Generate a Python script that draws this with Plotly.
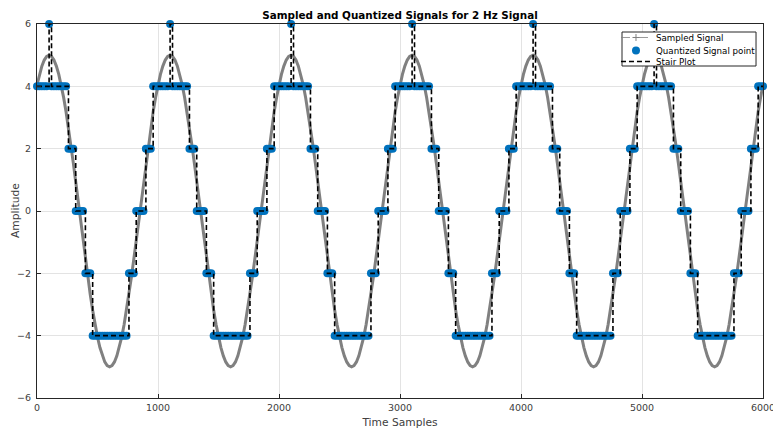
import numpy as np
import plotly.graph_objects as go

SAMPLE_X = list(range(0, 6001, 20))
SIGNAL = [
    4.045, 4.382, 4.649, 4.843, 4.961, 5.0, 4.961, 4.843, 4.649, 4.382,
    4.045, 3.645, 3.187, 2.679, 2.129, 1.545, 0.937, 0.314, -0.314, -0.937,
    -1.545, -2.129, -2.679, -3.187, -3.645, -4.045, -4.382, -4.649, -4.843, -4.961,
    -5.0, -4.961, -4.843, -4.649, -4.382, -4.045, -3.645, -3.187, -2.679, -2.129,
    -1.545, -0.937, -0.314, 0.314, 0.937, 1.545, 2.129, 2.679, 3.187, 3.645,
    4.045, 4.382, 4.649, 4.843, 4.961, 5.0, 4.961, 4.843, 4.649, 4.382,
    4.045, 3.645, 3.187, 2.679, 2.129, 1.545, 0.937, 0.314, -0.314, -0.937,
    -1.545, -2.129, -2.679, -3.187, -3.645, -4.045, -4.382, -4.649, -4.843, -4.961,
    -5.0, -4.961, -4.843, -4.649, -4.382, -4.045, -3.645, -3.187, -2.679, -2.129,
    -1.545, -0.937, -0.314, 0.314, 0.937, 1.545, 2.129, 2.679, 3.187, 3.645,
    4.045, 4.382, 4.649, 4.843, 4.961, 5.0, 4.961, 4.843, 4.649, 4.382,
    4.045, 3.645, 3.187, 2.679, 2.129, 1.545, 0.937, 0.314, -0.314, -0.937,
    -1.545, -2.129, -2.679, -3.187, -3.645, -4.045, -4.382, -4.649, -4.843, -4.961,
    -5.0, -4.961, -4.843, -4.649, -4.382, -4.045, -3.645, -3.187, -2.679, -2.129,
    -1.545, -0.937, -0.314, 0.314, 0.937, 1.545, 2.129, 2.679, 3.187, 3.645,
    4.045, 4.382, 4.649, 4.843, 4.961, 5.0, 4.961, 4.843, 4.649, 4.382,
    4.045, 3.645, 3.187, 2.679, 2.129, 1.545, 0.937, 0.314, -0.314, -0.937,
    -1.545, -2.129, -2.679, -3.187, -3.645, -4.045, -4.382, -4.649, -4.843, -4.961,
    -5.0, -4.961, -4.843, -4.649, -4.382, -4.045, -3.645, -3.187, -2.679, -2.129,
    -1.545, -0.937, -0.314, 0.314, 0.937, 1.545, 2.129, 2.679, 3.187, 3.645,
    4.045, 4.382, 4.649, 4.843, 4.961, 5.0, 4.961, 4.843, 4.649, 4.382,
    4.045, 3.645, 3.187, 2.679, 2.129, 1.545, 0.937, 0.314, -0.314, -0.937,
    -1.545, -2.129, -2.679, -3.187, -3.645, -4.045, -4.382, -4.649, -4.843, -4.961,
    -5.0, -4.961, -4.843, -4.649, -4.382, -4.045, -3.645, -3.187, -2.679, -2.129,
    -1.545, -0.937, -0.314, 0.314, 0.937, 1.545, 2.129, 2.679, 3.187, 3.645,
    4.045, 4.382, 4.649, 4.843, 4.961, 5.0, 4.961, 4.843, 4.649, 4.382,
    4.045, 3.645, 3.187, 2.679, 2.129, 1.545, 0.937, 0.314, -0.314, -0.937,
    -1.545, -2.129, -2.679, -3.187, -3.645, -4.045, -4.382, -4.649, -4.843, -4.961,
    -5.0, -4.961, -4.843, -4.649, -4.382, -4.045, -3.645, -3.187, -2.679, -2.129,
    -1.545, -0.937, -0.314, 0.314, 0.937, 1.545, 2.129, 2.679, 3.187, 3.645,
    4.045,
]
QUANT_STEP = 2
X_TICKS = [0, 1000, 2000, 3000, 4000, 5000, 6000]
Y_TICKS = [-6, -4, -2, 0, 2, 4, 6]
TITLE = "Sampled and Quantized Signals for 2 Hz Signal"
X_LABEL = "Time Samples"
Y_LABEL = "Amplitude"

sig = np.array(SIGNAL)
quant = np.floor(sig / QUANT_STEP + 0.5) * QUANT_STEP

GRAY = "#808080"
BLUE = "#0072BD"
AX = "#262626"
FONT = "DejaVu Sans"

fig = go.Figure()
# legend-only entry for the sampled signal (thin dash-dot with marker)
fig.add_trace(go.Scatter(x=[None], y=[None], mode="lines+markers", name="Sampled Signal",
                         legend="legend",
                         line=dict(color=GRAY, width=0.8, dash="dashdot"),
                         marker=dict(symbol="cross-thin", size=5, line=dict(color=GRAY, width=1))))
fig.add_trace(go.Scatter(x=SAMPLE_X, y=sig, mode="lines", showlegend=False,
                         line=dict(color=GRAY, width=3)))
fig.add_trace(go.Scatter(x=SAMPLE_X, y=quant, mode="markers", name="Quantized Signal point",
                         legend="legend2",
                         marker=dict(color=BLUE, size=8), cliponaxis=False))
fig.add_trace(go.Scatter(x=SAMPLE_X, y=quant, mode="lines", name="Stair Plot", line_shape="hv",
                         legend="legend3",
                         line=dict(color="black", width=1.6, dash="5px,3px"), cliponaxis=False))

axis_common = dict(showline=True, linecolor=AX, linewidth=1, mirror=True,
                   showgrid=True, gridcolor="#e3e3e3", gridwidth=1, zeroline=False,
                   ticks="inside", ticklen=4, tickcolor=AX, automargin=False,
                   ticklabeloverflow="allow",
                   tickfont=dict(family=FONT, size=9.5, color="#404040"))

fig.update_xaxes(range=[0, 6000], tickvals=X_TICKS, **axis_common, ticklabelstandoff=1,
                 title=dict(text=X_LABEL, font=dict(family=FONT, size=10.7, color="#404040"), standoff=6))
fig.update_yaxes(range=[-6, 6], tickvals=Y_TICKS, **axis_common, ticklabelstandoff=3)

leg_common = dict(xanchor="left", yanchor="top", bgcolor="rgba(0,0,0,0)", borderwidth=0,
                  font=dict(family=FONT, size=8.7, color="black"), itemwidth=30)

fig.update_layout(
    width=773, height=433,
    margin=dict(l=37, r=10, t=24, b=35),
    plot_bgcolor="white", paper_bgcolor="white",
    title=dict(text="<b>" + TITLE + "</b>", x=0.5, xref="paper", xanchor="center",
               y=1 - 15 / 433, yanchor="middle", font=dict(family=FONT, size=10.4, color="black")),
    legend=dict(x=0.7975, y=1.0027, **leg_common),
    legend2=dict(x=0.7975, y=0.968, **leg_common),
    legend3=dict(x=0.7975, y=0.9387, **leg_common),
    shapes=[dict(type="rect", xref="paper", yref="paper", x0=0.8058, x1=0.9904, y0=0.8877, y1=0.9786,
                 fillcolor="white", line=dict(color=AX, width=1), layer="above")],
    annotations=[dict(text=Y_LABEL, xref="paper", yref="paper", x=0, y=0.5, xanchor="center",
                      yanchor="middle", xshift=-22, textangle=-90, showarrow=False,
                      font=dict(family=FONT, size=10.7, color="#404040"))],
    showlegend=True,
)

fig.write_html("out.html")
